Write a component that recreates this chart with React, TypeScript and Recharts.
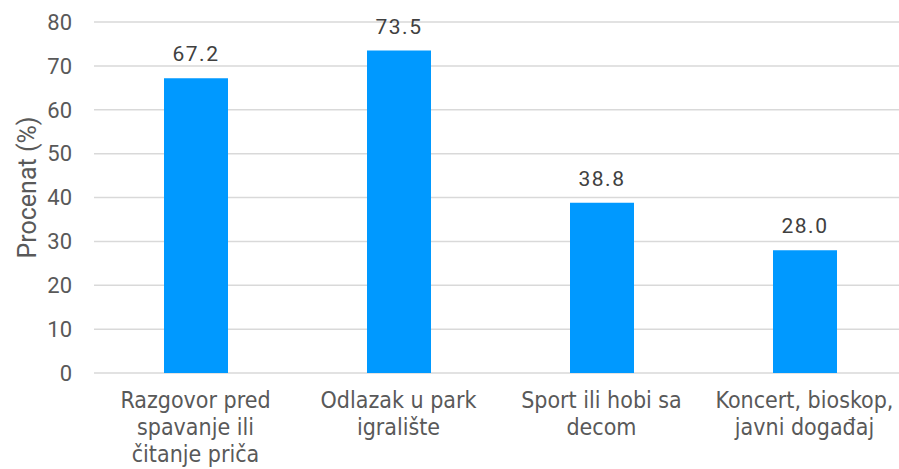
import { BarChart, Bar, XAxis, YAxis, CartesianGrid, LabelList } from "recharts";

const categories = ["Razgovor pred spavanje ili čitanje priča", "Odlazak u park igralište", "Sport ili hobi sa decom", "Koncert, bioskop, javni događaj"];
const labelLines = [
  ["Razgovor pred", "spavanje ili", "čitanje priča"],
  ["Odlazak u park", "igralište"],
  ["Sport ili hobi sa", "decom"],
  ["Koncert, bioskop,", "javni događaj"],
];
const values = [67.2, 73.5, 38.8, 28.0];
const yTicks = [0, 10, 20, 30, 40, 50, 60, 70, 80];

const rows = categories.map((c, i) => ({ name: c, idx: i, value: values[i] }));

const XTick = (props: any) => {
  const { x, y, payload } = props;
  const lines = labelLines[payload.index] || [String(payload.value)];
  return (
    <text x={x} y={y} textAnchor="middle" fill="#595959" fontFamily="'DejaVu Sans Condensed', 'DejaVu Sans', sans-serif" fontSize={23}>
      {lines.map((l: string, i: number) => (
        <tspan key={i} x={x} dy={i === 0 ? 27 : 27}>{l}</tspan>
      ))}
    </text>
  );
};

const YLabel = (props: any) => {
  const { viewBox } = props;
  const cx = 27;
  const cy = viewBox.y + viewBox.height / 2 - 10;
  return (
    <text x={cx} y={cy} transform={`rotate(-90, ${cx}, ${cy})`} textAnchor="middle" dominantBaseline="central" fill="#595959" fontFamily="Roboto" fontSize={25}>
      Procenat (%)
    </text>
  );
};

export default function App() {
  return (
    <div style={{ position: "absolute", left: 0, top: 0, width: 899, height: 469, overflow: "hidden", background: "#fff" }}>
      <BarChart width={910} height={469} data={rows} margin={{ top: 22, right: 4, bottom: 0, left: 0 }} barSize={64}>
        <CartesianGrid vertical={false} stroke="#d9d9d9" strokeWidth={1.5} />
        <XAxis dataKey="name" height={96} axisLine={false} tickLine={false} interval={0} tick={<XTick />} />
        <YAxis
          width={94}
          domain={[0, 80]}
          ticks={yTicks}
          axisLine={false}
          tickLine={false}
          tickSize={0}
          tickMargin={22}
          tick={{ fill: "#595959", fontFamily: "Roboto", fontSize: 22 }}
          label={<YLabel />}
        />
        <Bar dataKey="value" fill="#0099FF" isAnimationActive={false}>
          <LabelList dataKey="value" position="top" offset={17} formatter={(v: any) => Number(v).toFixed(1)} style={{ fill: "#404040", fontFamily: "Roboto", fontSize: 21, letterSpacing: 1.5 }} />
        </Bar>
      </BarChart>
    </div>
  );
}
